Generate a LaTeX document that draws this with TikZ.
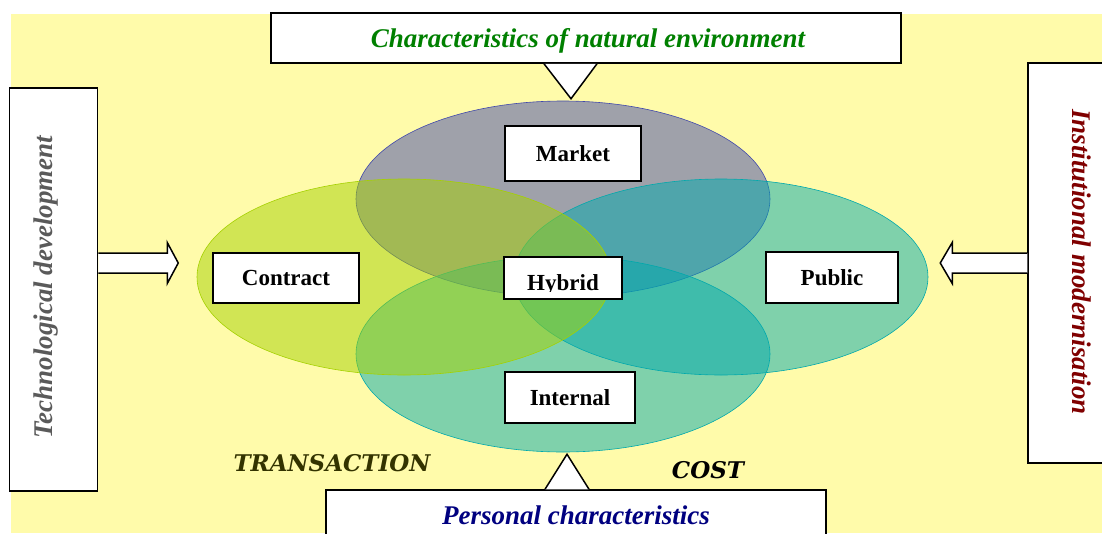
\documentclass[tikz,border=0pt]{standalone}
\usepackage{fontspec}
\setmainfont{Liberation Serif}
\newfontfamily\slabfont{DejaVu Serif}
\usetikzlibrary{calc,shapes.geometric}

\definecolor{bgyellow}{RGB}{255,251,170}
\definecolor{marketcol}{RGB}{65,73,170}
\definecolor{contractcol}{RGB}{165,209,0}
\definecolor{publiccol}{RGB}{1,169,172}
\definecolor{envgreen}{RGB}{0,128,0}
\definecolor{instred}{RGB}{128,0,0}
\definecolor{persblue}{RGB}{0,0,128}
\definecolor{techgrey}{RGB}{90,90,90}
\definecolor{transolive}{RGB}{51,51,0}

\begin{document}
\begin{tikzpicture}[x=1pt, y=-1pt,
    oval/.style={ellipse, minimum width=414pt, minimum height=196pt, fill opacity=0.5, line width=0.6pt},
    formbox/.style={draw, line width=1.5pt, fill=white, inner sep=0pt, font=\fontsize{23}{27}\selectfont\bfseries},
    outerbox/.style={draw, line width=1.5pt, fill=white, inner sep=0pt},
    bigtext/.style={inner sep=0pt, font=\fontsize{27}{32}\selectfont\bfseries\itshape},
    blockarr/.style={draw, line width=1.5pt, fill=white, line join=miter},
    costtext/.style={inner sep=0pt, font=\slabfont\fontsize{23}{27}\selectfont\bfseries\itshape}
]
    % Page and background
    \useasboundingbox (0,0) rectangle (1102,533);
    \clip (0,0) rectangle (1102,533);
    \fill[bgyellow] (11,14) rectangle (1102,533);

    % The four governance forms
    \node[oval, draw=marketcol, fill=marketcol] (marketoval) at (563,199) {};
    \node[oval, draw=publiccol, fill=publiccol] (publicoval) at (721,277) {};
    \node[oval, draw=publiccol, fill=publiccol] (internaloval) at (563,354) {};
    \node[oval, draw=contractcol, fill=contractcol] (contractoval) at (404,277) {};

    % Labels of the forms
    \node[formbox, minimum width=136pt, minimum height=55pt] (market) at (573,153.5) {Market};
    \node[formbox, minimum width=146pt, minimum height=50pt] (contract) at (286,278) {Contract};
    \node[formbox, minimum width=132pt, minimum height=51pt] (public) at (832,277.5) {Public};
    \node[formbox, minimum width=130pt, minimum height=51pt] (internal) at (570,397.5) {Internal};
    \node[formbox, minimum width=118pt, minimum height=42pt] (hybrid) at (563,278) {};
    \begin{scope}
        \clip (hybrid.north west) rectangle ($(hybrid.east)+(0,13)$);
        \node[formbox, draw=none, fill=none, anchor=base] (hybridlbl) at (563,290) {Hybrid};
    \end{scope}

    % Top callout
    \node[outerbox, minimum width=630pt, minimum height=50pt] (env) at (586,38) {};
    \draw[blockarr] ($(env.south)+(-42,0)$) -- ($(env.south)+(-15,35)$) -- ($(env.south)+(11,0)$);
    \node[bigtext, text=envgreen, anchor=base] (envlbl) at (588,47) {Characteristics of natural environment};

    % Bottom callout
    \node[outerbox, minimum width=500pt, minimum height=60pt] (pers) at (576,520) {};
    \draw[blockarr] ($(pers.north)+(-31,0)$) -- ($(pers.north)+(-9,-35)$) -- ($(pers.north)+(13,0)$);
    \node[bigtext, text=persblue, anchor=base] (perslbl) at (576,524) {Personal characteristics};

    % Left side
    \node[outerbox, minimum width=88pt, minimum height=403pt] (tech) at (53.5,289.5) {};
    \node[bigtext, text=techgrey, rotate=90] (techlbl) at (46.5,287) {Technological development};
    \coordinate (ta) at (tech.east |- 0,263);
    \draw[blockarr] ($(ta)+(0,-10)$) -- ++(69,0) -- ++(0,-10.5) -- ++(11,20.5) -- ++(-11,20.5) -- ++(0,-10.5) -- ++(-69,0);

    % Right side
    \node[outerbox, minimum width=80pt, minimum height=400pt] (inst) at (1068,263) {};
    \node[bigtext, text=instred, rotate=-90] (instlbl) at (1082,262) {Institutional modernisation};
    \coordinate (ia) at (inst.west |- 0,263);
    \draw[blockarr] ($(ia)+(0,-10)$) -- ++(-75,0) -- ++(0,-10.5) -- ++(-12,20.5) -- ++(12,20.5) -- ++(0,-10.5) -- ++(75,0);

    % Cost words
    \node[costtext, text=transolive, anchor=base] (trans) at (332,471) {TRANSACTION};
    \node[costtext, anchor=base] (cost) at (708,478) {COST};
\end{tikzpicture}
\end{document}
